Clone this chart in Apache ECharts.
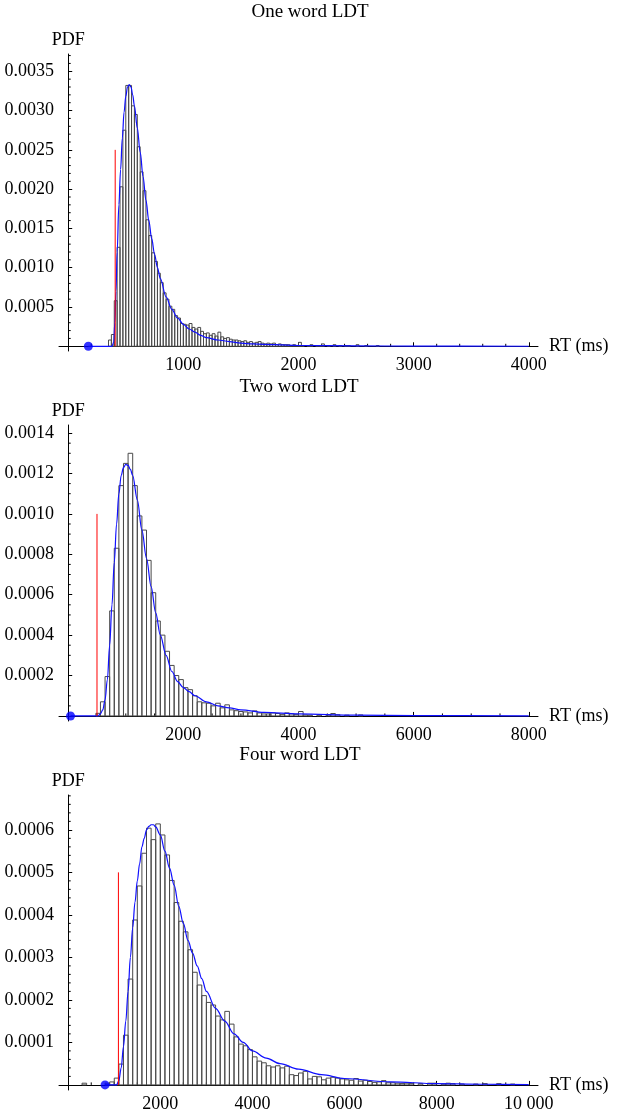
<!DOCTYPE html>
<html>
<head>
<meta charset="utf-8">
<script src="https://cdn.jsdelivr.net/npm/echarts@6/dist/echarts.min.js"></script>
<style>
  html, body { margin: 0; padding: 0; background: #ffffff; }
  #chart { width: 618px; height: 1111px; }
</style>
</head>
<body>
<div id="chart"></div>
<script>
// ---------- One word LDT ----------
const oneWordBinStart = 350;   // ms, left edge of first bin
const oneWordBinWidth = 25;    // ms
const oneWordDensity = [
  0.00008, 0.00015, 0.00058, 0.00126,
  0.00203, 0.00275, 0.00332, 0.00332,
  0.00306, 0.00295, 0.00254, 0.00222,
  0.00198, 0.00161, 0.00141, 0.00119,
  0.00108, 0.00093, 0.00081, 0.00068,
  0.00060, 0.00051, 0.00047, 0.00039,
  0.00036, 0.00029, 0.00028, 0.00027,
  0.00029, 0.00024, 0.00022, 0.00024,
  0.00019, 0.00016, 0.00017, 0.00014,
  0.00016, 0.00013, 0.00018, 0.00012,
  0.00010, 0.00011, 0.00009, 0.00008,
  0.00008, 0.00007, 0.00006, 0.00007,
  0.00005, 0.00006, 0.00004, 0.00005,
  0.00006, 0.00004, 0.00003, 0.00004,
  0.00003, 0.00004, 0.00002, 0.00003,
  0.00002, 0.00002, 0.00002, 0.00001,
  0.00002, 0.00001, 0.00005, 0.00001,
  0, 0.00001, 0.00002, 0,
  0.00001, 0.00001, 0.00003, 0,
  0.00001, 0, 0.00002, 0,
  0.00001, 0, 0.00001, 0.00001,
  0, 0, 0.00002, 0,
  0, 0.00001, 0, 0,
  0, 0.00001, 0, 0
];
const oneWordFit = [
  [175, 0], [380, 0], [395, 0.00005], [405, 0.0003], [415, 0.0007], [425, 0.0012],
  [440, 0.0018], [455, 0.00225], [470, 0.00265], [485, 0.00298], [500, 0.00318],
  [515, 0.0033], [530, 0.00333], [545, 0.0033], [560, 0.0032], [575, 0.00306],
  [600, 0.00278], [625, 0.00247], [650, 0.00216], [675, 0.00186], [700, 0.0016],
  [725, 0.00137], [750, 0.00117], [775, 0.001], [800, 0.00086], [850, 0.00063],
  [900, 0.00047], [950, 0.00036], [1000, 0.00028], [1050, 0.00022], [1100, 0.00018],
  [1150, 0.00014], [1200, 0.00011], [1300, 0.00008], [1400, 0.00006], [1500, 0.00004],
  [1600, 0.00003], [1800, 0.00002], [2000, 0.00001], [2500, 0.000005],
  [3000, 0.000002], [4000, 0.0000005]
];
const oneWordCutoff = [408, 0.0025];   // red marker: position, height
const oneWordShift = 175;              // blue dot on the RT axis

// ---------- Two word LDT ----------
const twoWordBinStart = 480;
const twoWordBinWidth = 80;
const twoWordDensity = [
  0.000013, 0.00007, 0.000195, 0.00052, 0.00083, 0.00114, 0.00125, 0.0013,
  0.00114, 0.00099, 0.00092, 0.00077, 0.00061, 0.00047, 0.0004, 0.00032,
  0.00025, 0.0002, 0.00018, 0.00014, 0.00013, 0.0001, 0.00007, 0.000065,
  0.000063, 0.00005, 0.000063, 0.00004, 0.000055, 0.00003, 0.000026, 0.000022,
  0.00002, 0.000015, 0.000025, 0.000015, 0.00001, 0.00001, 0.000015, 0.000012,
  0.000008, 0.000015, 0.00001, 0.000008, 0.000022, 0.000005, 0.000004, 0,
  0.000004, 0, 0.000005, 0.000012, 0.000006, 0, 0.000004, 0,
  0, 0.000005
];
const twoWordFit = [
  [40, 0], [520, 0], [560, 0.00001], [600, 0.00003], [640, 0.00008], [680, 0.00018],
  [720, 0.00035], [760, 0.00055], [800, 0.00076], [840, 0.00095], [880, 0.0011],
  [920, 0.00119], [960, 0.00123], [1000, 0.001245], [1040, 0.00124], [1080, 0.00122],
  [1120, 0.00119], [1200, 0.00107], [1280, 0.00092], [1360, 0.00078], [1440, 0.00064],
  [1520, 0.00051], [1600, 0.0004], [1700, 0.0003], [1800, 0.00022], [1900, 0.00017],
  [2000, 0.00014], [2100, 0.00012], [2200, 0.0001], [2400, 0.00007], [2600, 0.00005],
  [2800, 0.00004], [3000, 0.00003], [3400, 0.000018], [4000, 0.00001], [5000, 0.000004],
  [6000, 0.000002], [8000, 0.0000005]
];
const twoWordCutoff = [500, 0.001];
const twoWordShift = 40;

// ---------- Four word LDT ----------
const fourWordBinStart = 300;
const fourWordBinWidth = 100;
const fourWordDensity = [
  0.000004, 0, 0, 0, 0, 0.000004, 0.000007,
  0.000016, 0.000049, 0.000117, 0.000249, 0.000388, 0.000468, 0.000545, 0.000604,
  0.000577, 0.000614, 0.000588, 0.000541, 0.000481, 0.000429, 0.000385, 0.00036,
  0.000318, 0.000265, 0.000235, 0.00021, 0.000194, 0.000188, 0.000162, 0.000153,
  0.000173, 0.000143, 0.000113, 0.000096, 0.000092, 0.000083, 0.000066, 0.000056,
  0.000052, 0.000045, 0.000042, 0.000045, 0.00004, 0.000044, 0.000024, 0.000022,
  0.000028, 0.000032, 0.000014, 0.00002, 0.000019, 0.000012, 0.000016, 0.000018,
  0.000016, 0.000014, 0.000012, 0.000011, 0.000015, 0.000009, 0.000011, 0.000008,
  0.000006, 0.000007, 0.00001, 0.000005, 0.000005, 0.000004, 0.000003, 0.000004,
  0.000003, 0, 0.000003, 0, 0.000004, 0.000004, 0, 0.000002,
  0.000004, 0.000003, 0, 0.000002, 0, 0, 0.000002, 0,
  0.000003, 0, 0, 0.000003, 0, 0, 0.000002
];
const fourWordFit = [
  [800, 0], [1050, 0], [1100, 0.00001], [1150, 0.00004], [1200, 0.00009], [1250, 0.00015],
  [1300, 0.00022], [1350, 0.0003], [1400, 0.00037], [1450, 0.00043], [1500, 0.00048],
  [1550, 0.00052], [1600, 0.00056], [1650, 0.00058], [1700, 0.0006], [1750, 0.000608],
  [1800, 0.000612], [1850, 0.000612], [1900, 0.000607], [2000, 0.000588], [2100, 0.00055],
  [2200, 0.00051], [2300, 0.00047], [2400, 0.00042], [2500, 0.00038], [2600, 0.00034],
  [2700, 0.00031], [2800, 0.00028], [2900, 0.00025], [3000, 0.00022], [3200, 0.00018],
  [3400, 0.00015], [3600, 0.00012], [3800, 0.0001], [4000, 0.00008], [4300, 0.000063],
  [4600, 0.00005], [5000, 0.000037], [5500, 0.000024], [6000, 0.000015], [7000, 0.000007],
  [8000, 0.000003], [9000, 0.0000015], [10000, 0.0000008]
];
const fourWordCutoff = [1090, 0.0005];
const fourWordShift = 800;

// ---------- axis ticks ----------
const oneWordXTicks = [1000, 2000, 3000, 4000];
const oneWordYTicks = [0.0005, 0.001, 0.0015, 0.002, 0.0025, 0.003, 0.0035];
const twoWordXTicks = [2000, 4000, 6000, 8000];
const twoWordYTicks = [0.0002, 0.0004, 0.0006, 0.0008, 0.001, 0.0012, 0.0014];
const fourWordXTicks = [2000, 4000, 6000, 8000, 10000];
const fourWordYTicks = [0.0001, 0.0002, 0.0003, 0.0004, 0.0005, 0.0006];

const titles = ['One word LDT', 'Two word LDT', 'Four word LDT'];

const FONT = '"Liberation Serif", "Times New Roman", serif';

// minor tick positions between the labelled ones
function minorTicks(step, upTo, majors) {
  const out = [];
  for (let k = 1; k * step <= upTo + step * 1e-6; k++) {
    const v = +(k * step).toPrecision(10);
    if (!majors.some(m => Math.abs(m - v) < step * 1e-3)) out.push(v);
  }
  return out;
}

function histogramRows(start, width, dens) {
  const rows = [];
  dens.forEach((d, i) => {
    if (d > 0) rows.push([start + i * width, start + (i + 1) * width, d]);
  });
  return rows;
}

const panels = [
  {
    title: titles[0], titleX: 310, titleY: 12,
    grid: { left: 59, width: 479, top: 54, height: 297 },
    xMin: -80, xMax: 4080, yMin: -0.00006, yMax: 0.00372,
    xTicks: oneWordXTicks, xMinorStep: 200,
    yTicks: oneWordYTicks, yMinorStep: 0.0001,
    hist: histogramRows(oneWordBinStart, oneWordBinWidth, oneWordDensity),
    fit: oneWordFit, cutoff: oneWordCutoff, shift: oneWordShift
  },
  {
    title: titles[1], titleX: 299, titleY: 387,
    grid: { left: 59, width: 479, top: 425, height: 296 },
    xMin: -160, xMax: 8160, yMin: -0.000025, yMax: 0.00144,
    xTicks: twoWordXTicks, xMinorStep: 500,
    yTicks: twoWordYTicks, yMinorStep: 0.00005,
    hist: histogramRows(twoWordBinStart, twoWordBinWidth, twoWordDensity),
    fit: twoWordFit, cutoff: twoWordCutoff, shift: twoWordShift
  },
  {
    title: titles[2], titleX: 300, titleY: 755,
    grid: { left: 59, width: 479, top: 795, height: 295 },
    xMin: -200, xMax: 10200, yMin: -0.000012, yMax: 0.000682,
    xTicks: fourWordXTicks, xMinorStep: 500,
    yTicks: fourWordYTicks, yMinorStep: 0.00002,
    hist: histogramRows(fourWordBinStart, fourWordBinWidth, fourWordDensity),
    fit: fourWordFit, cutoff: fourWordCutoff, shift: fourWordShift
  }
];

const grids = [], xAxes = [], yAxes = [], series = [], graphics = [];
const labelStyle = { fontFamily: FONT, fontSize: 18, color: '#000' };
const MINOR_LEN = 2.5;

panels.forEach((p, i) => {
  grids.push(Object.assign({ containLabel: false, outerBoundsMode: 'none' }, p.grid));

  const xMinor = minorTicks(p.xMinorStep, p.xMax, p.xTicks);
  const yMinor = minorTicks(p.yMinorStep, p.yMax, p.yTicks);

  xAxes.push({
    type: 'value', gridIndex: i, min: p.xMin, max: p.xMax, position: 'bottom',
    name: 'RT (ms)', nameLocation: 'end', nameGap: 11,
    nameTextStyle: Object.assign({ padding: [6, 0, 0, 0] }, labelStyle),
    axisLine: { show: true, onZero: true, lineStyle: { color: '#000', width: 1 } },
    axisTick: { show: true, inside: true, length: 4, customValues: p.xTicks,
                lineStyle: { color: '#000', width: 1 } },
    axisLabel: Object.assign({
      show: true, customValues: p.xTicks, margin: 5,
      formatter: v => (v >= 10000 ? String(v).replace(/(\d+)(\d{3})$/, '$1 $2') : String(v))
    }, labelStyle),
    splitLine: { show: false }
  });

  yAxes.push({
    type: 'value', gridIndex: i, min: p.yMin, max: p.yMax, position: 'left',
    name: 'PDF', nameLocation: 'end', nameGap: 5,
    nameTextStyle: labelStyle,
    axisLine: { show: true, onZero: true, lineStyle: { color: '#000', width: 1 } },
    axisTick: { show: true, inside: true, length: 4, customValues: p.yTicks,
                lineStyle: { color: '#000', width: 1 } },
    axisLabel: Object.assign({
      show: true, customValues: p.yTicks, margin: 5,
      formatter: v => v.toFixed(4)
    }, labelStyle),
    splitLine: { show: false }
  });

  // histogram bins as outlined rectangles
  series.push({
    type: 'custom', xAxisIndex: i, yAxisIndex: i, z: 2,
    data: p.hist,
    renderItem: (params, api) => {
      const top = api.coord([api.value(0), api.value(2)]);
      const bottom = api.coord([api.value(1), 0]);
      return {
        type: 'rect',
        shape: { x: top[0], y: top[1], width: bottom[0] - top[0], height: bottom[1] - top[1] },
        style: { fill: 'none', stroke: '#4a4a4a', lineWidth: 1 }
      };
    },
    silent: true
  });

  // minor ticks on the RT axis (short, pointing into the plot)
  series.push({
    type: 'custom', xAxisIndex: i, yAxisIndex: i, z: 1,
    data: xMinor.map(v => [v, 0]),
    renderItem: (params, api) => {
      const pt = api.coord([api.value(0), 0]);
      return { type: 'line', shape: { x1: pt[0], y1: pt[1], x2: pt[0], y2: pt[1] - MINOR_LEN },
               style: { stroke: '#000', lineWidth: 1 } };
    },
    silent: true
  });

  // minor ticks on the PDF axis
  series.push({
    type: 'custom', xAxisIndex: i, yAxisIndex: i, z: 1,
    data: yMinor.map(v => [0, v]),
    renderItem: (params, api) => {
      const pt = api.coord([0, api.value(1)]);
      return { type: 'line', shape: { x1: pt[0], y1: pt[1], x2: pt[0] + MINOR_LEN, y2: pt[1] },
               style: { stroke: '#000', lineWidth: 1 } };
    },
    silent: true
  });

  // fitted density
  series.push({
    type: 'line', xAxisIndex: i, yAxisIndex: i, z: 3,
    data: p.fit, smooth: 0.35, smoothMonotone: 'x',
    showSymbol: false, symbol: 'none',
    lineStyle: { color: '#1010ff', width: 1.2 },
    silent: true
  });

  // red cutoff marker
  series.push({
    type: 'line', xAxisIndex: i, yAxisIndex: i, z: 4,
    data: [[p.cutoff[0], 0], [p.cutoff[0], p.cutoff[1]]],
    showSymbol: false, symbol: 'none',
    lineStyle: { color: '#ff0000', width: 1 },
    silent: true
  });

  // blue dot on the RT axis
  series.push({
    type: 'scatter', xAxisIndex: i, yAxisIndex: i, z: 5,
    data: [[p.shift, 0]], symbolSize: 9,
    itemStyle: { color: '#0000ff' },
    silent: true
  });

  graphics.push({
    type: 'text', x: p.titleX, y: p.titleY,
    style: { text: p.title, font: '19px ' + FONT, fill: '#000',
             textAlign: 'center', textVerticalAlign: 'middle' }
  });
});

const chart = echarts.init(document.getElementById('chart'), null, { renderer: 'canvas' });
chart.setOption({
  animation: false,
  backgroundColor: '#ffffff',
  grid: grids,
  xAxis: xAxes,
  yAxis: yAxes,
  series: series,
  graphic: graphics
});
</script>
</body>
</html>
